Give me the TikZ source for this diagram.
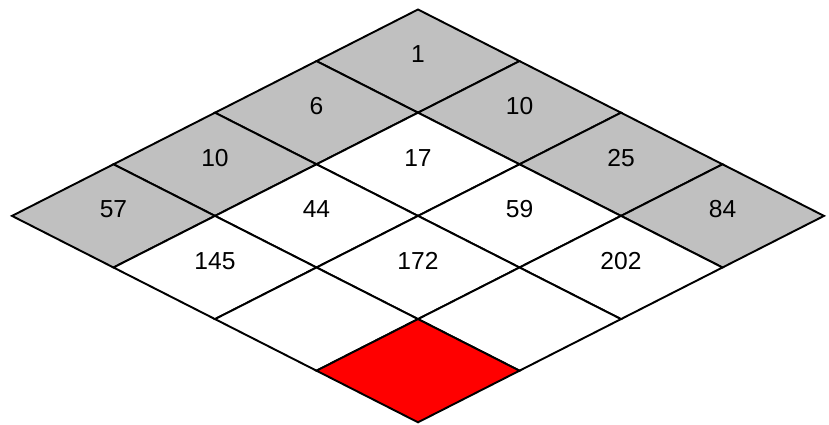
\documentclass[tikz,border=0pt]{standalone}
\usepackage{fontspec}
\setmainfont{Liberation Sans}
\usetikzlibrary{calc}
\definecolor{cellgray}{HTML}{C0C0C0}
\definecolor{cellred}{HTML}{FF0000}
\tikzset{
  cell/.style   = {draw=black, line width=1.1pt, line join=miter, fill=white},
  border/.style = {cell, fill=cellgray},
  inner/.style  = {cell},
  goal/.style   = {cell, fill=cellred},
  num/.style    = {font=\fontsize{14}{16}\selectfont, inner sep=0pt}
}
\begin{document}
\begin{tikzpicture}[x=0.02cm, y=-0.02cm]
\useasboundingbox (0,0) rectangle (829,425);
\coordinate (top) at (418,9.5);

% diamond cells, i runs down-right, j runs down-left
\foreach \i/\j/\kind in {0/0/border, 0/1/border, 0/2/border, 0/3/border,
                         1/0/border, 2/0/border, 3/0/border,
                         1/1/inner, 1/2/inner, 1/3/inner,
                         2/1/inner, 2/2/inner, 2/3/inner,
                         3/1/inner, 3/2/inner, 3/3/goal} {
  \draw[\kind] ($(top)+(\i*101.5-\j*101.5, \i*51.6+\j*51.6)$)
     -- ++(101.5,51.6) -- ++(-101.5,51.6) -- ++(-101.5,-51.6) -- cycle;
}

% cell values
\foreach \i/\j/\val in {0/0/1, 0/1/6, 0/2/10, 0/3/57,
                        1/0/10, 2/0/25, 3/0/84,
                        1/1/17, 1/2/44, 1/3/145,
                        2/1/59, 2/2/172, 3/1/202} {
  \node[num] (val-\i-\j) at ($(top)+(\i*101.5-\j*101.5, \i*51.6+\j*51.6+45)$) {\val};
}
\end{tikzpicture}
\end{document}
